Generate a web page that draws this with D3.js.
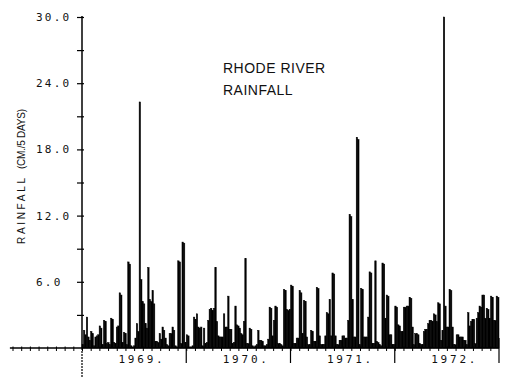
<!DOCTYPE html>
<html>
<head>
<meta charset="utf-8">
<script src="https://cdn.jsdelivr.net/npm/d3@7"></script>
<style>
  body { margin: 0; background: #fff; }
  svg { display: block; }
</style>
</head>
<body>
<svg id="chart" width="510" height="379"></svg>
<script>
// rainfall per 5-day period (cm), 73 periods per year
const rain1969 = [
  0.3, 1.6, 1.2, 2.8, 1.0, 0.7, 1.5, 1.3, 0.2, 1.0,
  1.1, 1.2, 2.0, 1.8, 0.3, 2.5, 2.4, 0.4, 0.5, 0.3,
  2.7, 2.6, 0.5, 0.4, 1.9, 2.0, 5.0, 4.8, 0.5, 1.4,
  1.3, 0.3, 7.8, 7.6, 0.2, 0.1, 0.2, 0.9, 2.2, 1.5,
  22.3, 6.2, 4.2, 4.0, 2.2, 1.8, 7.3, 4.4, 4.2, 5.2,
  4.0, 0.6, 0.6, 0.5, 1.3, 0.8, 1.9, 1.6, 0.9, 0.3,
  0.2, 1.3, 1.3, 1.9, 1.6, 0.2, 0.1, 7.9, 7.8, 0.4,
  9.6, 9.5, 0.5
];
const rain1970 = [
  1.2, 1.1, 0.1, 0.1, 0.2, 2.8, 2.6, 3.1, 1.9, 1.8,
  1.9, 0.2, 1.8, 0.4, 0.5, 2.5, 3.5, 3.6, 3.4, 3.6,
  7.3, 2.4, 1.1, 1.0, 1.0, 1.0, 3.1, 1.9, 1.9, 4.7,
  1.7, 1.7, 0.4, 0.5, 3.8, 2.1, 2.0, 1.8, 1.3, 1.2,
  2.4, 8.1, 0.4, 0.4, 1.8, 1.7, 0.2, 0.1, 0.2, 0.3,
  1.6, 0.7, 0.7, 0.6, 0.2, 0.2, 0.3, 0.8, 3.7, 3.6,
  1.1, 2.5, 3.8, 3.7, 0.4, 0.4, 0.3, 0.2, 5.3, 5.2,
  3.5, 3.4, 3.5
];
const rain1971 = [
  5.7, 5.6, 0.4, 0.4, 0.9, 0.9, 5.2, 5.0, 1.3, 4.3,
  4.2, 1.0, 0.3, 0.3, 1.6, 1.5, 0.6, 0.6, 5.5, 5.4,
  1.1, 0.3, 0.3, 0.3, 1.1, 3.2, 3.1, 4.4, 1.1, 6.8,
  6.7, 1.1, 0.3, 0.3, 0.7, 0.7, 1.1, 1.1, 0.9, 0.9,
  2.5, 12.1, 11.9, 4.4, 1.0, 1.0, 19.1, 18.9, 0.3, 5.4,
  5.3, 1.0, 1.0, 1.0, 2.8, 6.9, 6.8, 0.4, 0.4, 7.9,
  0.6, 0.5, 0.3, 0.2, 7.7, 7.6, 2.7, 4.8, 4.7, 1.2,
  1.2, 0.3, 0.3
];
const rain1972 = [
  3.8, 3.7, 2.1, 2.0, 1.5, 1.5, 3.7, 3.7, 3.8, 3.8,
  4.6, 4.5, 1.9, 0.3, 1.3, 1.3, 1.2, 0.4, 0.3, 0.3,
  1.5, 1.7, 1.7, 2.2, 2.5, 2.5, 2.4, 3.1, 3.0, 2.4,
  4.1, 4.0, 0.7, 1.6, 30.0, 3.8, 1.9, 1.9, 5.3, 5.2,
  1.9, 0.3, 0.3, 1.2, 1.2, 1.0, 1.0, 1.0, 0.7, 0.7,
  0.3, 3.2, 2.0, 2.4, 2.6, 2.6, 0.4, 2.7, 3.2, 3.8,
  3.7, 4.8, 4.8, 2.7, 3.6, 3.5, 2.7, 4.7, 4.6, 2.5,
  2.5, 4.7, 4.6
];

const yearLabels = ['1969.', '1970.', '1971.', '1972.'];
const yTickValues = [3, 6, 9, 12, 15, 18, 21, 24, 27, 30];
const yLabelValues = [6, 12, 18, 24, 30];
const titleLines = ['RHODE RIVER', 'RAINFALL'];

const rainfall = [].concat(rain1969, rain1970, rain1971, rain1972);

const svg = d3.select('#chart');
const plotLeft = 82, plotRight = 499, plotTop = 17, base = 348;

const x = d3.scaleBand().domain(d3.range(rainfall.length)).range([plotLeft, plotRight]).padding(0);
const y = d3.scaleLinear().domain([0, 30]).range([base, plotTop]);
// months since Jan 1969, used for the axis ticks
const months = d3.scaleLinear().domain([0, 48]).range([plotLeft, plotRight]);

// bars (thin stroke to get the plotter pen weight)
svg.append('g')
  .selectAll('rect')
  .data(rainfall)
  .join('rect')
  .attr('x', (d, i) => x(i))
  .attr('y', d => y(d))
  .attr('width', x.bandwidth())
  .attr('height', d => y(0) - y(d))
  .attr('fill', '#000')
  .attr('stroke', '#000')
  .attr('stroke-width', 0.5);

// x axis, runs on past the origin to the left
const xAxis = svg.append('g')
  .attr('transform', `translate(0,${base})`)
  .call(d3.axisBottom(months).tickValues(d3.range(-8, 48)).tickSize(3).tickFormat(''));
xAxis.select('.domain').remove();
xAxis.selectAll('.tick line').attr('y1', -1.5).attr('stroke', '#000');
xAxis.append('line')
  .attr('x1', months(-8.3)).attr('x2', months(48))
  .attr('stroke', '#000').attr('stroke-width', 1.5);

// year dividers
svg.append('g')
  .selectAll('line')
  .data([12, 24, 36, 48])
  .join('line')
  .attr('x1', d => months(d)).attr('x2', d => months(d))
  .attr('y1', d => d === 48 ? base - 10 : base)
  .attr('y2', base + 15)
  .attr('stroke', '#000').attr('stroke-width', 1.2);

// year labels
svg.append('g')
  .selectAll('text')
  .data(yearLabels)
  .join('text')
  .attr('x', (d, i) => months(i * 12 + 6.9))
  .attr('y', base + 15)
  .attr('text-anchor', 'middle')
  .attr('font-family', 'DejaVu Sans Mono, monospace')
  .attr('font-size', 11)
  .attr('letter-spacing', 2.8)
  .attr('fill', '#111')
  .text(d => d);

// y axis
const yAxis = svg.append('g')
  .attr('transform', `translate(${plotLeft},0)`)
  .call(d3.axisLeft(y)
    .tickValues(yTickValues)
    .tickSize(5)
    .tickFormat(d => yLabelValues.includes(d) ? d3.format('.1f')(d) : ''));
yAxis.select('.domain').remove();
yAxis.selectAll('.tick line').attr('x1', 2).attr('stroke', '#000').attr('stroke-width', 1.2);
yAxis.selectAll('.tick text')
  .attr('x', 36 - plotLeft)
  .attr('text-anchor', 'start')
  .attr('font-family', 'DejaVu Sans Mono, monospace')
  .attr('font-size', 11)
  .attr('letter-spacing', 2.2)
  .attr('fill', '#111');
yAxis.append('line')
  .attr('y1', plotTop - 1).attr('y2', base)
  .attr('stroke', '#000').attr('stroke-width', 1.5);
yAxis.append('line')
  .attr('y1', base).attr('y2', 378)
  .attr('stroke', '#000').attr('stroke-width', 1.2)
  .attr('stroke-dasharray', '2,1');

// y axis title
const yTitle = svg.append('g')
  .attr('transform', 'translate(25,0) rotate(-90)')
  .attr('font-family', 'Liberation Sans, Arial, sans-serif')
  .attr('font-size', 10)
  .attr('fill', '#111');
yTitle.append('text')
  .attr('x', -244).attr('y', 0)
  .attr('textLength', 66).attr('lengthAdjust', 'spacing')
  .text('RAINFALL');
yTitle.append('text')
  .attr('x', -169).attr('y', 0)
  .attr('textLength', 60).attr('lengthAdjust', 'spacing')
  .text('(CM./5 DAYS)');

// chart title
svg.append('g')
  .selectAll('text')
  .data(titleLines)
  .join('text')
  .attr('x', 223)
  .attr('y', (d, i) => 73 + i * 22)
  .attr('font-family', 'Liberation Sans, Arial, sans-serif')
  .attr('font-size', 14)
  .attr('letter-spacing', 0.5)
  .attr('fill', '#111')
  .text(d => d);
</script>
</body>
</html>
